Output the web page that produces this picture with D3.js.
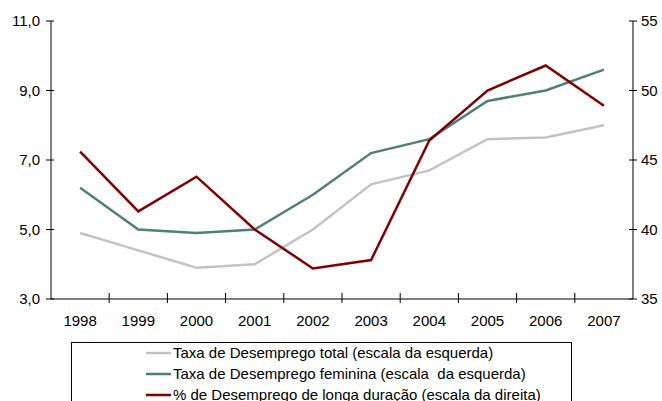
<!DOCTYPE html>
<html>
<head>
<meta charset="utf-8">
<script src="https://cdn.jsdelivr.net/npm/d3@7"></script>
<style>
  body { margin: 0; background: #fff; }
  svg { display: block; font-family: "Liberation Sans", Arial, sans-serif; }
  text { white-space: pre; }
</style>
</head>
<body>
<div id="chart"></div>
<script>
const years = ['1998', '1999', '2000', '2001', '2002', '2003', '2004', '2005', '2006', '2007'];
const totalRate = [4.9, 4.4, 3.9, 4.0, 5.0, 6.3, 6.7, 7.6, 7.65, 8.0];
const femaleRate = [6.2, 5.0, 4.9, 5.0, 6.0, 7.2, 7.6, 8.7, 9.0, 9.6];
const longTermPct = [45.6, 41.3, 43.8, 40.0, 37.2, 37.8, 46.4, 50.0, 51.8, 48.9];
const leftTicks = [3, 5, 7, 9, 11];
const rightTicks = [35, 40, 45, 50, 55];
const legendLabels = [
  'Taxa de Desemprego total (escala da esquerda)',
  'Taxa de Desemprego feminina (escala  da esquerda)',
  '% de Desemprego de longa duração (escala da direita)'
];

const width = 662, height = 401;
const plotLeft = 51, plotRight = 633, plotTop = 21, plotBottom = 299;
const fontSize = 15;

const svg = d3.select('#chart').append('svg')
  .attr('width', width)
  .attr('height', height);

const x = d3.scaleBand().domain(years).range([plotLeft, plotRight]);
const yL = d3.scaleLinear().domain([3, 11]).range([plotBottom, plotTop]);
const yR = d3.scaleLinear().domain([35, 55]).range([plotBottom, plotTop]);

// axes
const axisColor = '#000';
svg.append('line').attr('x1', plotLeft).attr('x2', plotLeft).attr('y1', plotTop).attr('y2', plotBottom).attr('stroke', axisColor);
svg.append('line').attr('x1', plotRight).attr('x2', plotRight).attr('y1', plotTop).attr('y2', plotBottom).attr('stroke', axisColor);
svg.append('line').attr('x1', plotLeft).attr('x2', plotRight).attr('y1', plotBottom).attr('y2', plotBottom).attr('stroke', axisColor);

leftTicks.forEach(t => {
  svg.append('line').attr('x1', plotLeft - 5).attr('x2', plotLeft + 3)
    .attr('y1', yL(t)).attr('y2', yL(t)).attr('stroke', axisColor);
  svg.append('text').attr('x', 40).attr('y', yL(t)).attr('dy', '0.35em')
    .attr('text-anchor', 'end').attr('font-size', fontSize).attr('fill', '#000')
    .text(d3.format('.1f')(t).replace('.', ','));
});

rightTicks.forEach(t => {
  svg.append('line').attr('x1', plotRight - 4).attr('x2', plotRight + 4)
    .attr('y1', yR(t)).attr('y2', yR(t)).attr('stroke', axisColor);
  svg.append('text').attr('x', 641).attr('y', yR(t)).attr('dy', '0.35em')
    .attr('text-anchor', 'start').attr('font-size', fontSize).attr('fill', '#000')
    .text(t);
});

// x ticks between categories
years.slice(1).forEach(yr => {
  const xx = x(yr);
  svg.append('line').attr('x1', xx).attr('x2', xx)
    .attr('y1', plotBottom - 6).attr('y2', plotBottom + 4).attr('stroke', axisColor);
});

years.forEach(yr => {
  svg.append('text').attr('x', x(yr) + x.bandwidth() / 2).attr('y', 321)
    .attr('dy', '0.35em').attr('text-anchor', 'middle')
    .attr('font-size', fontSize).attr('fill', '#000').text(yr);
});

// lines
const series = [
  { values: totalRate, scale: yL, color: '#c3c3c3' },
  { values: femaleRate, scale: yL, color: '#4f7f7b' },
  { values: longTermPct, scale: yR, color: '#800000' }
];

series.forEach(s => {
  const line = d3.line()
    .x((d, i) => x(years[i]) + x.bandwidth() / 2)
    .y(d => s.scale(d));
  svg.append('path').datum(s.values)
    .attr('d', line)
    .attr('fill', 'none')
    .attr('stroke', s.color)
    .attr('stroke-width', 2.5)
    .attr('stroke-linejoin', 'miter');
});

// legend
svg.append('rect').attr('x', 71.5).attr('y', 342.5).attr('width', 500).attr('height', 70)
  .attr('fill', '#fff').attr('stroke', '#000');

legendLabels.forEach((lab, i) => {
  const ly = 353 + i * 21;
  svg.append('line').attr('x1', 146).attr('x2', 171).attr('y1', ly).attr('y2', ly)
    .attr('stroke', series[i].color).attr('stroke-width', 2.5);
  svg.append('text').attr('x', 173).attr('y', ly).attr('dy', '0.35em')
    .attr('font-size', fontSize).attr('fill', '#000').text(lab);
});
</script>
</body>
</html>
